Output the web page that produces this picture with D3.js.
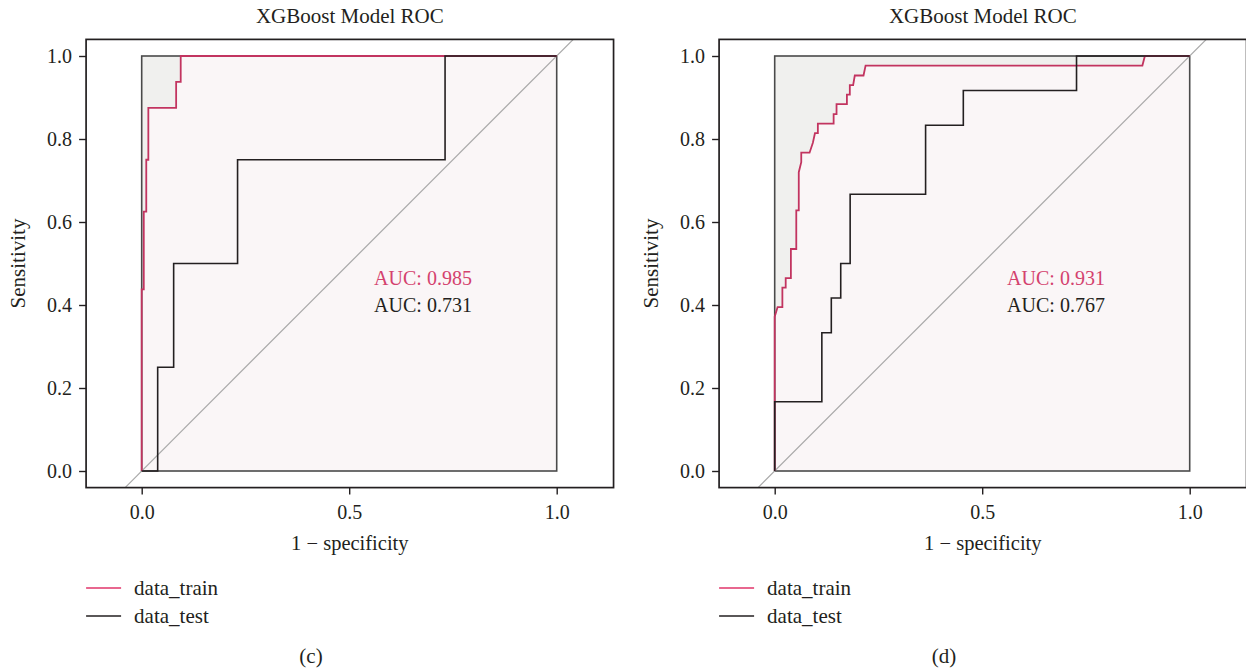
<!DOCTYPE html>
<html>
<head>
<meta charset="utf-8">
<script src="https://cdn.jsdelivr.net/npm/d3@7/dist/d3.min.js"></script>
<style>
  body { margin: 0; background: #fff; }
  svg { display: block; font-family: "Liberation Serif", "DejaVu Serif", serif; }
</style>
</head>
<body>
<div id="chart"></div>
<script>
const SVG_WIDTH = 1246;
const SVG_HEIGHT = 669;
const PANEL_SHIFT = 633;

const TITLE = "XGBoost Model ROC";
const X_LABEL = "1 \u2212 specificity";
const Y_LABEL = "Sensitivity";
const X_TICKS = [0, 0.5, 1];
const Y_TICKS = [0, 0.2, 0.4, 0.6, 0.8, 1];
const LEGEND_NAMES = ["data_train", "data_test"];
const CAPTIONS = ["(c)", "(d)"];
const AUC_LABELS_C = ["AUC: 0.985", "AUC: 0.731"];
const AUC_LABELS_D = ["AUC: 0.931", "AUC: 0.767"];

// [1 - specificity, sensitivity]
const trainC = [
    [0, 0], [0, 0.4375], [0.005, 0.4375], [0.005, 0.625], [0.011, 0.625],
    [0.011, 0.75], [0.016, 0.75], [0.016, 0.875], [0.083, 0.875],
    [0.083, 0.9375], [0.094, 0.9375], [0.094, 1], [1, 1]
];
const testC = [
    [0, 0], [0.0385, 0], [0.0385, 0.25], [0.077, 0.25], [0.077, 0.5],
    [0.231, 0.5], [0.231, 0.75], [0.731, 0.75], [0.731, 1], [1, 1]
];
const trainD = [
    [0, 0], [0, 0.372], [0.007, 0.395], [0.0185, 0.395], [0.0185, 0.442],
    [0.0265, 0.442], [0.0265, 0.465], [0.039, 0.465], [0.039, 0.535],
    [0.052, 0.535], [0.052, 0.628], [0.058, 0.628], [0.058, 0.72],
    [0.064, 0.744], [0.064, 0.767], [0.084, 0.767], [0.092, 0.791],
    [0.097, 0.814], [0.104, 0.814], [0.104, 0.837], [0.142, 0.837],
    [0.142, 0.86], [0.149, 0.86], [0.149, 0.884], [0.174, 0.884],
    [0.174, 0.907], [0.181, 0.907], [0.181, 0.93], [0.189, 0.93],
    [0.193, 0.953], [0.214, 0.953], [0.219, 0.977], [0.886, 0.977],
    [0.892, 1], [1, 1]
];
const testD = [
    [0, 0], [0, 0.1667], [0.1136, 0.1667], [0.1136, 0.3333], [0.1364, 0.3333],
    [0.1364, 0.4167], [0.1591, 0.4167], [0.1591, 0.5], [0.1818, 0.5],
    [0.1818, 0.6667], [0.3636, 0.6667], [0.3636, 0.8333], [0.4545, 0.8333],
    [0.4545, 0.9167], [0.7273, 0.9167], [0.7273, 1], [1, 1]
];

const X_LIM = [-0.134, 1.137];
const Y_LIM = [-0.04, 1.04];

const TRAIN_COLOR = "#C23460";
const TRAIN_TEXT = "#D4426E";
const TEST_COLOR = "#231F20";

const getScales = () => {
    const x = d3.scaleLinear().domain([0, 1]).range([141.7, 556.7]);
    const y = d3.scaleLinear().domain([0, 1]).range([471, 56]);
    return { x, y };
};

const drawPanel = (svg, idx, train, test, aucLabels) => {
    const { x, y } = getScales();
    const g = svg.append("g").attr("transform", `translate(${idx * PANEL_SHIFT},0)`);
    const left = x(X_LIM[0]), right = x(X_LIM[1]);
    const top = y(Y_LIM[1]), bottom = y(Y_LIM[0]);
    const cx = (left + right) / 2;

    const clipId = "clip" + idx;
    g.append("clipPath").attr("id", clipId)
        .append("rect").attr("x", left).attr("y", top)
        .attr("width", right - left).attr("height", bottom - top);

    const plot = g.append("g").attr("clip-path", `url(#${clipId})`);

    // max AUC square
    plot.append("rect")
        .attr("x", x(0)).attr("y", y(1))
        .attr("width", x(1) - x(0)).attr("height", y(0) - y(1))
        .attr("fill", "#F0F0EE");

    // AUC polygon of training curve
    const area = d3.area()
        .x(d => x(d[0])).y0(y(0)).y1(d => y(d[1]));
    plot.append("path").datum(train)
        .attr("d", area)
        .attr("fill", "#FAF6F7");

    plot.append("rect")
        .attr("x", x(0)).attr("y", y(1))
        .attr("width", x(1) - x(0)).attr("height", y(0) - y(1))
        .attr("fill", "none")
        .attr("stroke", "#4a4a4a")
        .attr("stroke-width", 1.6);

    // reference diagonal
    plot.append("line")
        .attr("x1", x(Y_LIM[0])).attr("y1", y(Y_LIM[0]))
        .attr("x2", x(Y_LIM[1])).attr("y2", y(Y_LIM[1]))
        .attr("stroke", "#A9A9A9").attr("stroke-width", 1.2);

    const line = d3.line().x(d => x(d[0])).y(d => y(d[1]));
    plot.append("path").datum(train)
        .attr("d", line).attr("fill", "none")
        .attr("stroke", TRAIN_COLOR).attr("stroke-width", 1.8);
    plot.append("path").datum(test)
        .attr("d", line).attr("fill", "none")
        .attr("stroke", TEST_COLOR).attr("stroke-width", 1.6);

    // frame
    g.append("rect")
        .attr("x", left).attr("y", top)
        .attr("width", right - left).attr("height", bottom - top)
        .attr("fill", "none").attr("stroke", "#231F20").attr("stroke-width", 1.7);

    // axes
    const fmt = d3.format(".1f");
    const yAxis = g.append("g")
        .attr("transform", `translate(${left},0)`)
        .call(d3.axisLeft(y).tickValues(Y_TICKS).tickFormat(fmt).tickSize(7).tickPadding(7));
    const xAxis = g.append("g")
        .attr("transform", `translate(0,${bottom})`)
        .call(d3.axisBottom(x).tickValues(X_TICKS).tickFormat(fmt).tickSize(7).tickPadding(10));
    [yAxis, xAxis].forEach(a => {
        a.select(".domain").remove();
        a.selectAll("line").attr("stroke", "#231F20").attr("stroke-width", 1.4);
        a.selectAll("text")
            .attr("fill", "#231F20")
            .style("font-family", "'Liberation Serif', serif")
            .style("font-size", "20px");
    });

    g.append("text")
        .attr("x", cx).attr("y", 23)
        .attr("text-anchor", "middle")
        .attr("font-size", 21).attr("fill", "#231F20")
        .text(TITLE);

    g.append("text")
        .attr("x", cx).attr("y", 550)
        .attr("text-anchor", "middle")
        .attr("font-size", 20.5).attr("fill", "#231F20")
        .text(X_LABEL);

    g.append("text")
        .attr("transform", `translate(25,${(top + bottom) / 2}) rotate(-90)`)
        .attr("text-anchor", "middle")
        .attr("font-size", 21).attr("fill", "#231F20")
        .text(Y_LABEL);

    // AUC labels
    g.append("text")
        .attr("x", x(0.56)).attr("y", y(0.465)).attr("dy", "0.35em")
        .attr("font-size", 20).attr("fill", TRAIN_TEXT)
        .text(aucLabels[0]);
    g.append("text")
        .attr("x", x(0.56)).attr("y", y(0.4)).attr("dy", "0.35em")
        .attr("font-size", 20).attr("fill", TEST_COLOR)
        .text(aucLabels[1]);

    // legend
    const legendY = [588, 616];
    const legendColors = ["#E0356A", TEST_COLOR];
    LEGEND_NAMES.forEach((name, i) => {
        g.append("line")
            .attr("x1", left).attr("x2", left + 35)
            .attr("y1", legendY[i]).attr("y2", legendY[i])
            .attr("stroke", legendColors[i]).attr("stroke-width", 1.3);
        g.append("text")
            .attr("x", left + 48).attr("y", legendY[i]).attr("dy", "0.32em")
            .attr("font-size", 21).attr("fill", "#231F20")
            .text(name);
    });

    g.append("text")
        .attr("x", 311).attr("y", 656).attr("dy", "0.35em")
        .attr("text-anchor", "middle")
        .attr("font-size", 21).attr("fill", "#231F20")
        .text(CAPTIONS[idx]);
};

const drawChart = (containerId) => {
    const container = d3.select("#" + containerId);
    container.html("");
    const svg = container.append("svg")
        .attr("width", SVG_WIDTH)
        .attr("height", SVG_HEIGHT);

    drawPanel(svg, 0, trainC, testC, AUC_LABELS_C);
    drawPanel(svg, 1, trainD, testD, AUC_LABELS_D);
};

drawChart("chart");
</script>
</body>
</html>
